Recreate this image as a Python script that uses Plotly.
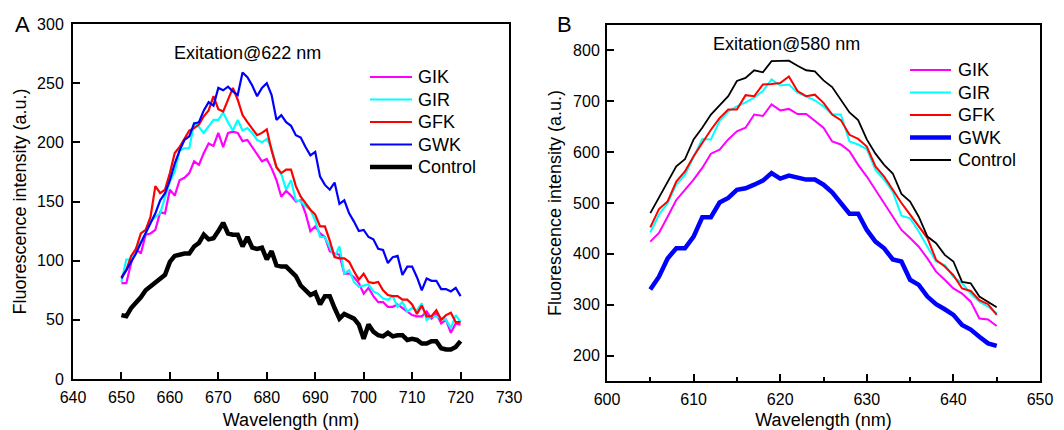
import plotly.graph_objects as go

# ---------------- Panel A data (excitation 622 nm) ----------------
wl_a = list(range(650, 721))
gik_a = [81, 81, 98, 110, 106, 122, 123, 126, 141, 140, 160, 155, 168, 170, 174, 184, 181, 191, 199, 197,
         208, 196, 208, 209, 208, 201, 202, 196, 191, 184, 186, 178, 168, 154, 159, 155, 150, 151, 140, 125,
         129, 123, 120, 108, 106, 105, 89, 89, 86, 81, 72, 77, 70, 65, 65, 61, 61, 63, 60, 57,
         54, 53, 53, 57, 51, 55, 47, 50, 39, 47, 46]
gir_a = [82, 101, 101, 110, 116, 123, 133, 137, 140, 154, 167, 175, 193, 195, 195, 216, 213, 208, 213, 219,
         219, 225, 217, 210, 219, 210, 212, 208, 202, 200, 203, 195, 179, 173, 160, 168, 151, 150, 146, 143,
         134, 120, 120, 112, 103, 112, 89, 92, 82, 78, 79, 80, 74, 72, 68, 67, 70, 61, 65, 57,
         60, 58, 64, 50, 53, 53, 51, 50, 43, 54, 48]
gfk_a = [86, 92, 104, 110, 123, 126, 137, 163, 157, 160, 174, 191, 196, 203, 210, 212, 215, 222, 227, 239,
         228, 226, 236, 246, 236, 223, 217, 212, 206, 208, 211, 193, 179, 174, 177, 177, 163, 154, 148, 143,
         139, 129, 129, 117, 103, 102, 102, 99, 91, 84, 89, 82, 81, 82, 75, 71, 70, 70, 67, 67,
         63, 55, 62, 53, 53, 58, 50, 54, 56, 48, 48]
gwk_a = [85, 92, 100, 106, 115, 123, 131, 140, 151, 157, 168, 182, 193, 202, 205, 216, 217, 227, 234, 231,
         246, 244, 247, 243, 240, 259, 255, 248, 239, 246, 250, 240, 219, 223, 217, 214, 206, 204, 196, 189,
         192, 171, 164, 160, 166, 148, 151, 140, 133, 125, 126, 120, 118, 110, 109, 98, 103, 104, 88, 95,
         95, 86, 75, 85, 83, 83, 76, 76, 74, 77, 70]
ctrl_a = [54, 53, 60, 64, 69, 75, 78, 81, 85, 88, 99, 104, 105, 106, 106, 112, 115, 122, 118, 119,
          125, 132, 123, 122, 122, 112, 120, 111, 110, 111, 101, 108, 96, 95, 95, 91, 87, 79, 75, 71,
          73, 63, 70, 70, 60, 51, 55, 53, 51, 46, 34, 46, 40, 37, 36, 39, 36, 37, 37, 33,
          34, 33, 30, 30, 32, 32, 26, 25, 25, 27, 32]

# ---------------- Panel B data (excitation 580 nm) ----------------
wl_b = list(range(605, 646))
gik_b = [424, 441, 473, 506, 526, 546, 569, 597, 605, 625, 641, 648, 674, 671, 694, 682, 685, 675, 675, 661,
         648, 621, 615, 602, 575, 552, 526, 500, 473, 447, 431, 414, 391, 365, 349, 332, 322, 306, 273, 271,
         258]
gir_b = [442, 477, 500, 536, 555, 592, 626, 625, 661, 680, 690, 698, 707, 720, 743, 731, 733, 717, 710, 702,
         690, 674, 674, 621, 615, 606, 565, 546, 522, 475, 470, 444, 414, 385, 378, 355, 342, 322, 306, 296,
         283]
gfk_b = [452, 488, 503, 542, 562, 592, 618, 644, 667, 684, 684, 712, 710, 733, 734, 736, 749, 720, 710, 713,
         697, 674, 663, 634, 626, 611, 572, 552, 526, 500, 477, 454, 431, 388, 375, 358, 332, 327, 309, 301,
         280]
gwk_b = [330, 355, 391, 411, 411, 434, 472, 472, 501, 510, 526, 529, 536, 544, 559, 548, 554, 551, 546, 546,
         536, 521, 500, 479, 479, 447, 424, 411, 389, 385, 349, 339, 316, 301, 291, 280, 260, 251, 237, 224,
         219]
ctrl_b = [480, 510, 542, 572, 586, 625, 648, 674, 692, 710, 740, 746, 761, 757, 779, 779, 780, 770, 761, 759,
          741, 728, 703, 678, 663, 625, 597, 575, 558, 518, 503, 473, 434, 421, 398, 385, 345, 342, 316, 306,
          295]

names = ["GIK", "GIR", "GFK", "GWK", "Control"]
colors = ["#FF00FF", "#00FFFF", "#FF0000", "#0000FF", "#000000"]
widths_a = [2.2, 2.2, 2.2, 2.2, 4.5]
widths_b = [2, 2, 2, 4.5, 1.8]

FONT = "Liberation Sans, Arial, sans-serif"
W, H = 1064, 430
MT, MB = 24, 49

def py(px_from_top):
    """convert pixel row to paper y"""
    return (H - MB - px_from_top) / (H - MT - MB)

fig = go.Figure()
for nm, col, w, ys in zip(names, colors, widths_a, [gik_a, gir_a, gfk_a, gwk_a, ctrl_a]):
    fig.add_trace(go.Scatter(x=wl_a, y=ys, name=nm, mode="lines", showlegend=False,
                             line=dict(color=col, width=w), xaxis="x", yaxis="y"))
for nm, col, w, ys in zip(names, colors, widths_b, [gik_b, gir_b, gfk_b, gwk_b, ctrl_b]):
    fig.add_trace(go.Scatter(x=wl_b, y=ys, name=nm, mode="lines", showlegend=False,
                             line=dict(color=col, width=w), xaxis="x2", yaxis="y2"))

# legend keys (line sample + label) for each panel
shapes, annotations = [], []
legend_specs = [  # (line x0 px, line x1 px, text x px, first row px, row step px, widths)
    (370, 412, 416, 77, 22.5, widths_a),
    (910, 951, 956, 70, 22.5, widths_b),
]
for lx0, lx1, tx, r0, step, widths in legend_specs:
    for i, (nm, col, w) in enumerate(zip(names, colors, widths)):
        yy = py(r0 + i * step)
        shapes.append(dict(type="line", xref="paper", yref="paper", x0=lx0 / W, x1=lx1 / W, y0=yy, y1=yy,
                           line=dict(color=col, width=w)))
        annotations.append(dict(text=nm, x=tx / W, y=yy, xref="paper", yref="paper", showarrow=False,
                                xanchor="left", yanchor="middle",
                                font=dict(family=FONT, size=18, color="black")))

annotations += [
    dict(text="Exitation@622 nm", x=247 / W, y=py(53), xref="paper", yref="paper",
         showarrow=False, font=dict(family=FONT, size=18, color="black"), xanchor="center", yanchor="middle"),
    dict(text="Exitation@580 nm", x=786 / W, y=py(44), xref="paper", yref="paper",
         showarrow=False, font=dict(family=FONT, size=18, color="black"), xanchor="center", yanchor="middle"),
    dict(text="A", x=22 / W, y=py(24), xref="paper", yref="paper",
         showarrow=False, font=dict(family=FONT, size=22, color="black"), xanchor="center", yanchor="middle"),
    dict(text="B", x=564 / W, y=py(24), xref="paper", yref="paper",
         showarrow=False, font=dict(family=FONT, size=22, color="black"), xanchor="center", yanchor="middle"),
]

axis_common = dict(showline=True, linecolor="black", linewidth=2, mirror=True,
                   ticks="inside", ticklen=7, tickwidth=2, tickcolor="black",
                   showgrid=False, zeroline=False, automargin=False,
                   tickfont=dict(family=FONT, size=16, color="black"))

fig.update_layout(
    width=W, height=H,
    margin=dict(l=0, r=0, t=MT, b=MB),
    paper_bgcolor="white", plot_bgcolor="white",
    font=dict(family=FONT, color="black"),
    showlegend=False,
    xaxis=dict(domain=[73 / W, 509 / W], range=[640, 730], dtick=10, tick0=640, ticklabelstandoff=3,
               title=dict(text="Wavelength (nm)", font=dict(size=18), standoff=8), anchor="y",
               **axis_common),
    yaxis=dict(domain=[py(379), 1.0], range=[0, 300], dtick=50, tick0=0, ticklabelstandoff=4,
               title=dict(text="Fluorescence intensity (a.u.)", font=dict(size=18), standoff=6), anchor="x",
               **axis_common),
    xaxis2=dict(domain=[607 / W, 1040 / W], range=[600, 650], dtick=10, tick0=600, ticklabelstandoff=3,
                minor=dict(dtick=5, ticks="inside", ticklen=4, tickwidth=2, tickcolor="black"),
                title=dict(text="Wavelength (nm)", font=dict(size=18), standoff=8), anchor="y2",
                **axis_common),
    yaxis2=dict(domain=[0.0, py(25)], range=[150, 850], dtick=100, tick0=0, ticklabelstandoff=2,
                title=dict(text="Fluorescence intensity (a.u.)", font=dict(size=18), standoff=7), anchor="x2",
                **axis_common),
    shapes=shapes,
    annotations=annotations,
)

fig.write_html("out.html")
